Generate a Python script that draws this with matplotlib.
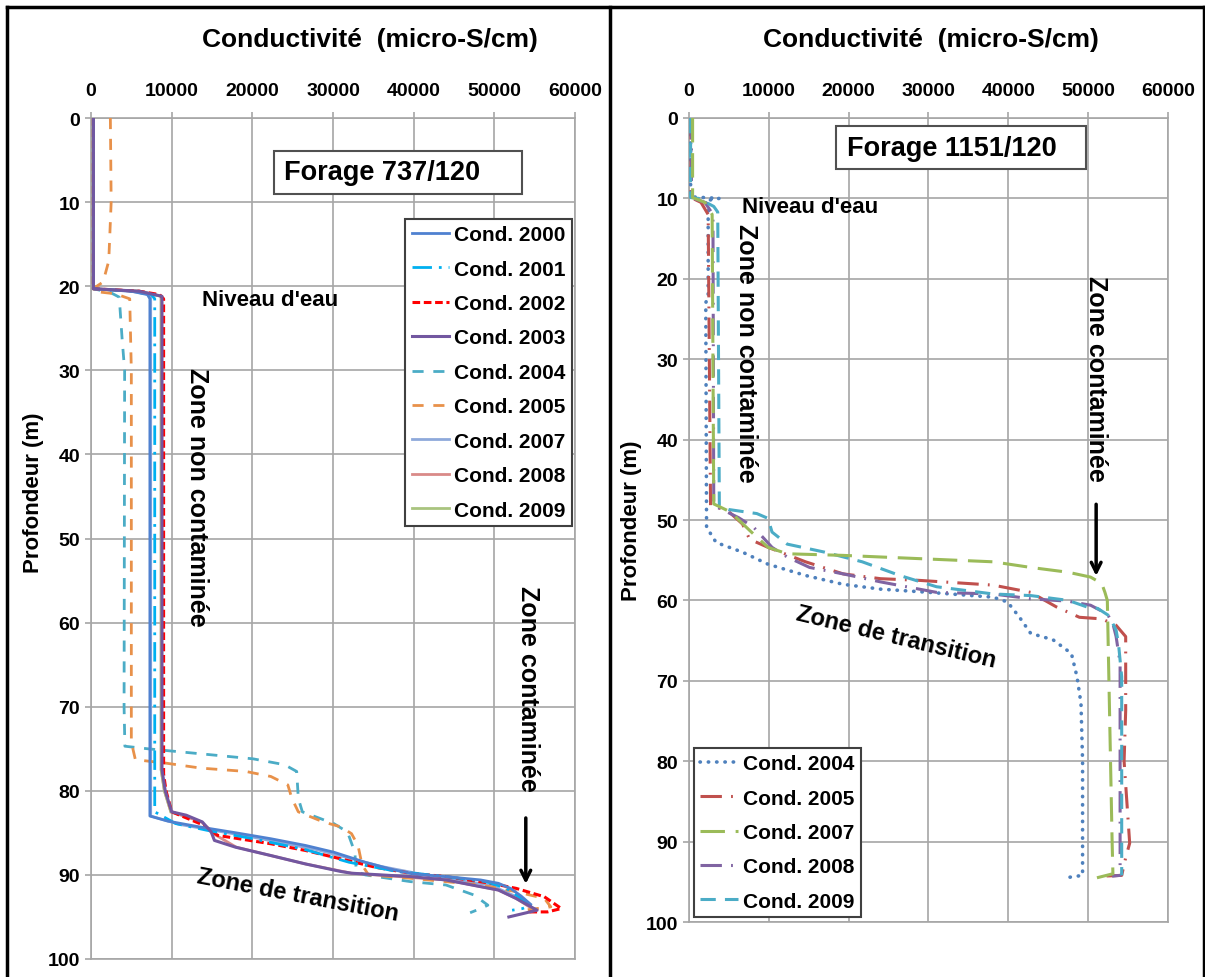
import matplotlib
matplotlib.use('Agg')
import matplotlib.pyplot as plt
from matplotlib.patches import Rectangle
from matplotlib.lines import Line2D

plt.rcParams['font.family'] = ['Liberation Sans', 'DejaVu Sans']

# ---------------- shared axis values ----------------
x_ticks = [0, 10000, 20000, 30000, 40000, 50000, 60000]
y_ticks = [0, 10, 20, 30, 40, 50, 60, 70, 80, 90, 100]
x_title = "Conductivité  (micro-S/cm)"
y_title = "Profondeur (m)"

# ---------------- left panel : Forage 737/120 ----------------
L2000_depth = [0, 10, 20.3, 20.6, 21.0, 21.5, 30, 50, 70, 83.0, 83.6, 84.3, 85.0, 85.7, 86.5, 87.3,
               88.5, 89.4, 89.9, 90.2, 90.6, 91.0, 91.6, 92.5, 93.5]
L2000_val = [300, 300, 300, 5000, 7000, 7300, 7300, 7300, 7300, 7300, 9500, 13500, 18000, 22300, 26600,
             30100, 34000, 37500, 40100, 44000, 48300, 50500, 52000, 53300, 54500]

L2001_depth = [0, 10, 20.3, 20.6, 21.0, 21.5, 30, 50, 70, 82.5, 83.9, 84.7, 85.7, 87.0, 88.5, 89.6,
               90.2, 90.8, 91.6, 92.6, 93.6, 94.0, 94.2]
L2001_val = [300, 300, 300, 5000, 7500, 7900, 7900, 7900, 7900, 7900, 10500, 14400, 20100, 26600, 32000,
             38000, 44000, 49000, 51500, 53000, 54500, 53500, 52200]

L2002_depth = [0, 10, 20.3, 20.6, 21.0, 21.5, 30, 50, 78, 80, 82.5, 84.1, 85.3, 86.3, 87.1, 88.1, 89.1,
               89.8, 90.2, 91.0, 91.6, 92.6, 94.0, 94.4, 94.4]
L2002_val = [300, 300, 300, 6000, 8500, 9000, 9000, 9000, 9000, 9300, 10000, 14000, 15700, 22300, 26600,
             31000, 35300, 39600, 44000, 49600, 52700, 56200, 58300, 56600, 54000]

L2003_depth = [0, 10, 20.3, 20.6, 21.2, 30, 50, 77.5, 80, 82.5, 82.9, 83.7, 84.9, 85.9, 86.7, 87.7, 88.7,
               89.6, 89.8, 90.2, 90.6, 91.4, 91.8, 92.8, 94.2, 95.0]
L2003_val = [300, 300, 300, 6000, 8800, 8800, 8800, 8800, 9200, 10000, 11800, 13800, 14900, 15300, 17900,
             22300, 26600, 31000, 32300, 39600, 44000, 48300, 50500, 52700, 55300, 51800]

L2004_depth = [0, 10, 20.3, 20.8, 21.3, 26.3, 30, 70, 74.7, 75.0, 75.2, 75.6, 76.2, 76.9, 77.7, 80.9, 82.5,
               83.9, 84.9, 87.3, 89.6, 90.0, 90.8, 91.2, 92.4, 93.6, 94.0, 94.5]
L2004_val = [300, 300, 300, 2500, 3500, 3860, 4170, 4100, 4200, 7000, 9200, 13600, 20100, 24000, 25500,
             25700, 26200, 30100, 31800, 32700, 32900, 34000, 39600, 44000, 47500, 49200, 48300, 47000]

L2005_depth = [0, 10, 17, 19.5, 20.2, 20.6, 20.9, 21.5, 30, 74.2, 76.3, 76.7, 77.3, 77.7, 78.3, 79.3, 80.9,
               82.5, 83.7, 84.3, 85.1, 86.5, 88.8, 90.0, 90.4, 91.2, 92.0, 92.8, 93.8, 94.2]
L2005_val = [2400, 2500, 2200, 1500, 400, 200, 3000, 4800, 5000, 5000, 5500, 9200, 13600, 19200, 22300,
             24400, 24900, 25700, 28800, 31000, 32300, 33100, 33600, 34400, 39600, 48300, 52700, 56200,
             57000, 53600]

L2007_depth = [0, 10, 20.3, 20.6, 21.0, 30, 50, 70, 83.0, 84.0, 85.5, 87.0, 89.0, 90.3, 91.2, 92.5, 93.5]
L2007_val = [200, 200, 200, 5000, 7400, 7400, 7400, 7400, 7400, 11000, 20000, 28000, 36000, 43000,
             49500, 52500, 54000]

L2008_depth = [0, 10, 20.3, 20.6, 21.2, 30, 50, 77.5, 80, 82.5, 83.7, 85.0, 86.7, 88.7, 89.8, 90.6, 91.8,
               92.8, 94.2]
L2008_val = [200, 200, 200, 6000, 8700, 8700, 8700, 8700, 9100, 9900, 13700, 15000, 18000, 26600, 32300,
             44000, 50500, 52700, 55000]

L2009_depth = [0, 10, 20.3, 20.6, 21.2, 30, 50, 77.5, 80, 82.5]
L2009_val = [130, 130, 130, 6000, 8700, 8700, 8700, 8700, 9100, 9900]

left_series = [
    ("Cond. 2000", L2000_depth, L2000_val),
    ("Cond. 2001", L2001_depth, L2001_val),
    ("Cond. 2002", L2002_depth, L2002_val),
    ("Cond. 2003", L2003_depth, L2003_val),
    ("Cond. 2004", L2004_depth, L2004_val),
    ("Cond. 2005", L2005_depth, L2005_val),
    ("Cond. 2007", L2007_depth, L2007_val),
    ("Cond. 2008", L2008_depth, L2008_val),
    ("Cond. 2009", L2009_depth, L2009_val),
]

# ---------------- right panel : Forage 1151/120 ----------------
R2004_depth = [0, 9.8, 10.0, 10.3, 11, 22, 23, 50.9, 52.8, 54.0, 55.5, 56.9, 58.0, 58.6, 59.0, 59.6,
               60.2, 62.1, 64.1, 64.9, 66.6, 69.5, 72.8, 80, 90, 94.2, 94.5]
R2004_val = [200, 200, 3800, 2000, 2400, 2400, 2100, 2200, 3400, 6700, 9900, 14600, 19300, 24000, 30100,
             38100, 39900, 41400, 42800, 45600, 47900, 48600, 49100, 49300, 49300, 49300, 47200]

R2005_depth = [0, 9.9, 10.5, 12, 48.2, 48.8, 50.5, 52.4, 53.4, 55.2, 56.7, 57.3, 57.5, 58.1, 59.0, 60.8,
               62.1, 62.3, 63.1, 64.5, 67.8, 73.7, 80, 90.2, 92, 94.2, 94.3]
R2005_val = [250, 250, 1500, 2400, 2700, 4800, 6700, 7600, 9900, 14600, 19300, 24000, 28700, 38100, 42800,
             46000, 48900, 51700, 53500, 54700, 54700, 54700, 54500, 55200, 54700, 54200, 51700]

R2007_depth = [0, 9.9, 10.5, 12, 48.0, 49.0, 51.3, 53.4, 54.2, 54.4, 54.8, 55.2, 55.9, 56.5, 57.1, 57.9,
               59.0, 60, 70, 90, 94, 94.5]
R2007_val = [450, 450, 2000, 2900, 3100, 5200, 7600, 9900, 12300, 19300, 28700, 38100, 42800, 47500, 50300,
             51700, 52100, 52400, 52600, 53000, 53100, 51100]

R2008_depth = [0, 9.9, 10.5, 12, 48.2, 49.7, 50.9, 53.4, 54.6, 55.9, 56.7, 57.7, 59.0, 59.2, 59.8, 60.1,
               60.6, 61.7, 62.9, 64.5, 67.8, 80, 94.2, 94.3]
R2008_val = [300, 300, 2000, 3000, 3100, 6200, 8100, 10400, 12300, 15100, 19300, 24000, 31000, 38100, 42800,
             47500, 50300, 52400, 53100, 53500, 54000, 54000, 54000, 53000]

R2009_depth = [0, 9.9, 10.0, 11.0, 11.7, 48.3, 48.7, 49.2, 49.8, 51.5, 53.0, 54.0, 55.2, 56.9, 58.3, 59.2,
               59.4, 60.0, 60.8, 61.0, 61.9, 63.7, 65.4, 69.5, 80, 94.2]
R2009_val = [200, 200, 1200, 3100, 3600, 3800, 5000, 8500, 9900, 10400, 12300, 17000, 21700, 26400, 31000,
             38100, 42800, 47500, 49800, 51200, 52600, 53500, 53800, 54200, 54200, 54200]

right_series = [
    ("Cond. 2004", R2004_depth, R2004_val),
    ("Cond. 2005", R2005_depth, R2005_val),
    ("Cond. 2007", R2007_depth, R2007_val),
    ("Cond. 2008", R2008_depth, R2008_val),
    ("Cond. 2009", R2009_depth, R2009_val),
]

# ---------------- styles ----------------
left_styles = {
    "Cond. 2000": dict(color='#4F81D0', ls='-', lw=2.0, zorder=6),
    "Cond. 2001": dict(color='#00B0F0', ls=(0, (7, 2.5, 1, 2.5)), lw=2.0, zorder=5),
    "Cond. 2002": dict(color='#FF0000', ls=(0, (2.5, 1.2)), lw=2.2, zorder=4),
    "Cond. 2003": dict(color='#7257A0', ls='-', lw=2.2, zorder=7),
    "Cond. 2004": dict(color='#4BACC6', ls=(0, (4, 3.5)), lw=2.0, zorder=3),
    "Cond. 2005": dict(color='#E8914A', ls=(0, (4, 3.5)), lw=2.0, zorder=3),
    "Cond. 2007": dict(color='#8EA9DB', ls='-', lw=2.0, zorder=2),
    "Cond. 2008": dict(color='#D98A88', ls='-', lw=2.0, zorder=2),
    "Cond. 2009": dict(color='#A9C47F', ls='-', lw=2.0, zorder=2),
}
right_styles = {
    "Cond. 2004": dict(color='#4F81BD', ls=(0, (0.1, 2.2)), lw=2.6, dash_capstyle='round', zorder=3),
    "Cond. 2005": dict(color='#C0504D', ls=(0, (7, 3, 0.6, 3)), lw=2.2, zorder=4),
    "Cond. 2007": dict(color='#9BBB59', ls=(0, (8, 3.5)), lw=2.2, zorder=5),
    "Cond. 2008": dict(color='#8064A2', ls=(0, (7, 3, 0.6, 3)), lw=2.2, zorder=4),
    "Cond. 2009": dict(color='#4BACC6', ls=(0, (5, 3)), lw=2.2, zorder=4),
}

W, H = 1205, 978
fig = plt.figure(figsize=(W / 100, H / 100), dpi=100)
fig.patch.set_facecolor('white')

axL = fig.add_axes([91 / W, 1 - 960 / H, (575 - 91) / W, (960 - 119) / H])
axR = fig.add_axes([689 / W, 1 - 923 / H, (1168 - 689) / W, (923 - 119) / H])

grid_c = '#A6A6A6'


def style(ax):
    ax.set_xlim(0, 60000)
    ax.set_ylim(100, 0)
    ax.xaxis.tick_top()
    ax.set_xticks(x_ticks)
    ax.set_yticks(y_ticks)
    ax.set_xticklabels([str(v) for v in x_ticks])
    ax.set_yticklabels([str(v) for v in y_ticks])
    ax.grid(True, color=grid_c, lw=1.2)
    ax.set_axisbelow(True)
    for s in ax.spines.values():
        s.set_color(grid_c)
        s.set_linewidth(1.2)
    ax.tick_params(axis='x', length=4, width=1.2, pad=10, labelsize=14, color=grid_c)
    ax.tick_params(axis='y', length=4, width=1.2, pad=4, labelsize=14, color=grid_c)
    for lab in ax.get_xticklabels() + ax.get_yticklabels():
        lab.set_fontweight('bold')
    ax.set_ylabel(y_title, fontsize=16, fontweight='bold')


style(axL)
style(axR)
axL.yaxis.set_label_coords(-0.097, 0.555)
axR.yaxis.set_label_coords(-0.098, 0.50)

for name, d, v in left_series:
    axL.plot(v, d, label=name, **left_styles[name])
for name, d, v in right_series:
    axR.plot(v, d, label=name, **right_styles[name])

leg_kw = dict(prop=dict(weight='bold', size=15), frameon=True, fancybox=False, edgecolor='#404040',
              framealpha=1, labelspacing=0.74, handlelength=1.8, handletextpad=0.25, borderpad=0.3,
              borderaxespad=0)
legL = axL.legend(loc='upper right', bbox_to_anchor=(0.994, 0.880), **leg_kw)
legL.get_frame().set_linewidth(1.5)
legR = axR.legend(loc='lower left', bbox_to_anchor=(0.0104, 0.0062), **leg_kw)
legR.get_frame().set_linewidth(1.5)

box_kw = dict(fill=True, fc='white', ec='#505050', lw=1.5, zorder=8)

# left annotations
axL.add_patch(Rectangle((0.378, 0.9096), 0.512, 0.0512, transform=axL.transAxes, **box_kw))
axL.text(0.399, 0.9352, "Forage 737/120", transform=axL.transAxes, fontsize=19.5, fontweight='bold',
         ha='left', va='center', zorder=9)
axL.text(13800, 21.6, "Niveau d'eau", fontsize=16, fontweight='bold', ha='left', va='center')
axL.text(13100, 45.0, "Zone non contaminée", fontsize=18, fontweight='bold', rotation=270, ha='center',
         va='center')
axL.text(54200, 67.8, "Zone contaminée", fontsize=18, fontweight='bold', rotation=270, ha='center', va='center')
axL.text(25700, 92.4, "Zone de transition", fontsize=17, fontweight='bold', rotation=-10.7,
         rotation_mode='anchor', ha='center', va='center')
axL.annotate('', xy=(53900, 91.4), xytext=(53900, 82.9),
             arrowprops=dict(arrowstyle='->,head_length=0.7,head_width=0.35', color='black', lw=2.5))

# right annotations
axR.add_patch(Rectangle((0.307, 0.9366), 0.522, 0.0534, transform=axR.transAxes, **box_kw))
axR.text(0.330, 0.9633, "Forage 1151/120", transform=axR.transAxes, fontsize=19.5, fontweight='bold',
         ha='left', va='center', zorder=9)
axR.text(6700, 11.0, "Niveau d'eau", fontsize=16, fontweight='bold', ha='left', va='center')
axR.text(7100, 29.1, "Zone non contaminée", fontsize=18, fontweight='bold', rotation=270, ha='center',
         va='center')
axR.text(50960, 32.3, "Zone contaminée", fontsize=18, fontweight='bold', rotation=270, ha='center', va='center')
axR.text(25900, 64.5, "Zone de transition", fontsize=17, fontweight='bold', rotation=-13.5,
         rotation_mode='anchor', ha='center', va='center')
axR.annotate('', xy=(51000, 57.3), xytext=(51000, 47.7),
             arrowprops=dict(arrowstyle='->,head_length=0.7,head_width=0.35', color='black', lw=2.5))

# titles
fig.text(370 / W, 1 - 40 / H, x_title, fontsize=19, fontweight='bold', ha='center', va='center')
fig.text(931 / W, 1 - 40 / H, x_title, fontsize=19, fontweight='bold', ha='center', va='center')

# outer frame and divider
frame_kw = dict(transform=fig.transFigure, color='black', lw=2.5, solid_capstyle='projecting')
fig.add_artist(Line2D([7 / W, 1204 / W], [1 - 8 / H, 1 - 8 / H], **frame_kw))
fig.add_artist(Line2D([7 / W, 7 / W], [0, 1 - 8 / H], **frame_kw))
fig.add_artist(Line2D([1204 / W, 1204 / W], [0, 1 - 8 / H], **frame_kw))
fig.add_artist(Line2D([610 / W, 610 / W], [0, 1 - 8 / H], **frame_kw))

fig.savefig('out.png', dpi=100, facecolor='white')
